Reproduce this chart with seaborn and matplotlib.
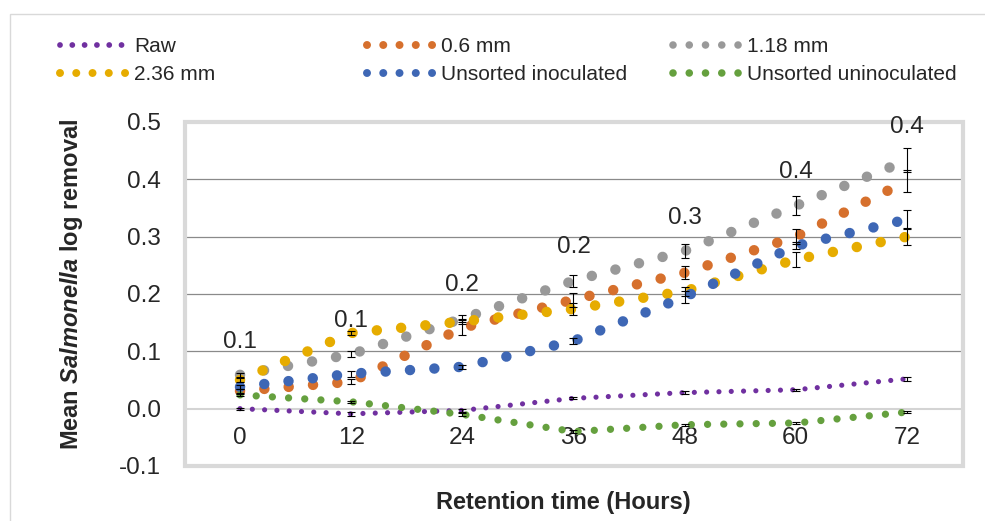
import matplotlib
matplotlib.use("Agg")
import matplotlib.pyplot as plt
import seaborn as sns
from matplotlib.lines import Line2D
from matplotlib.patches import Rectangle

# === Data ===
TIME = [0, 12, 24, 36, 48, 60, 72]

RAW = [0.000, -0.009, -0.003, 0.018, 0.028, 0.033, 0.052]
MM_06 = [0.031, 0.047, 0.141, 0.190, 0.237, 0.300, 0.397]
MM_118 = [0.059, 0.095, 0.157, 0.223, 0.275, 0.354, 0.433]
MM_236 = [0.050, 0.132, 0.152, 0.174, 0.205, 0.260, 0.300]
INOC = [0.038, 0.061, 0.073, 0.118, 0.195, 0.284, 0.330]
UNINOC = [0.024, 0.012, -0.010, -0.040, -0.028, -0.025, -0.006]

RAW_ERR = [0.002, 0.003, 0.003, 0.002, 0.002, 0.002, 0.003]
MM_06_ERR = [0.004, 0.004, 0.013, 0.012, 0.011, 0.013, 0.019]
MM_118_ERR = [0.004, 0.005, 0.006, 0.010, 0.013, 0.017, 0.021]
MM_236_ERR = [0.004, 0.004, 0.005, 0.010, 0.008, 0.013, 0.015]
INOC_ERR = [0.004, 0.005, 0.003, 0.005, 0.010, 0.006, 0.016]
UNINOC_ERR = [0.002, 0.002, 0.002, 0.003, 0.002, 0.002, 0.002]

LABELS = ["Raw", "0.6 mm", "1.18 mm", "2.36 mm", "Unsorted inoculated", "Unsorted uninoculated"]
COLORS = ["#7030A0", "#D6702D", "#999999", "#E6AC00", "#3E67B5", "#65A03E"]
Y_TICKS = [-0.1, 0.0, 0.1, 0.2, 0.3, 0.4, 0.5]
GRID_LEVELS = [0.1, 0.2, 0.3, 0.4]

series = [RAW, MM_06, MM_118, MM_236, INOC, UNINOC]
errors = [RAW_ERR, MM_06_ERR, MM_118_ERR, MM_236_ERR, INOC_ERR, UNINOC_ERR]

# dot size (px) and spacing (px) for each series line
PX = 0.72
dot_px = [5.2, 10.5, 10.5, 10.5, 10.5, 7.3]
gap_px = [12.3, 24.4, 24.4, 24.4, 24.4, 16.2]
leg_dot_px = [5.8, 8.0, 7.6, 8.0, 8.0, 7.6]
leg_gap_px = [12.3, 16.25, 16.25, 16.25, 16.25, 16.25]

# === Style ===
sns.set_style("white")
plt.rcParams["font.family"] = ["Liberation Sans", "DejaVu Sans"]
plt.rcParams["mathtext.fontset"] = "custom"
plt.rcParams["mathtext.bfit"] = "Liberation Sans:italic:bold"
plt.rcParams["axes.unicode_minus"] = False

W, H = 985, 521
fig = plt.figure(figsize=(W / 100, H / 100), dpi=100)
fig.patch.set_facecolor("white")

# outer chart border
fig.patches.append(Rectangle((10 / W, -0.1), 1.2, 1.1 - 14 / H, transform=fig.transFigure,
                             fill=False, ec="#d9d9d9", lw=1.0, zorder=0))

ax_l, ax_r, ax_t, ax_b = 185, 963, 122, 466
ax = fig.add_axes([ax_l / W, 1 - ax_b / H, (ax_r - ax_l) / W, (ax_b - ax_t) / H])
ax.set_facecolor("none")

for lvl in GRID_LEVELS:
    ax.axhline(lvl, color="#8a8a8a", lw=0.9, zorder=1)

# series
for vals, err, col, dpx, gpx in zip(series, errors, COLORS, dot_px, gap_px):
    sns.lineplot(x=TIME, y=vals, ax=ax, color=col, lw=dpx * PX,
                 linestyle=(0, (0.001, gpx / dpx)), dash_capstyle="round",
                 legend=False, zorder=3)
    ax.errorbar(TIME, vals, yerr=err, fmt="none", ecolor="black", elinewidth=0.8,
                capsize=3, capthick=0.8, zorder=4)

# data labels (1.18 mm series)
for t, v in zip(TIME, MM_118):
    ax.annotate(f"{v:.1f}", (t, v), xytext=(0, 24), textcoords="offset points",
                ha="center", va="center", fontsize=17.5, zorder=6)

ax.set_xlim(-5.94, 78.05)
ax.set_ylim(-0.1, 0.5)
ax.set_xticks(TIME)
ax.set_xticklabels([str(t) for t in TIME])
ax.set_yticks(Y_TICKS)
ax.set_yticklabels([f"{y:.1f}" for y in Y_TICKS])
ax.tick_params(axis="x", length=0, pad=13.5, labelsize=17.5)
ax.tick_params(axis="y", length=0, pad=17.5, labelsize=17.5)

for side in ["top", "left", "right"]:
    ax.spines[side].set_visible(False)
ax.spines["bottom"].set_position(("data", 0))
ax.spines["bottom"].set_color("#d4d4d4")
ax.spines["bottom"].set_linewidth(1.5)

# plot area border
ax.add_patch(Rectangle((0, 0), 1, 1, transform=ax.transAxes, fill=False,
                       ec="#d9d9d9", lw=3.0, clip_on=False, zorder=5))

# axis titles
fig.text(72 / W, 1 - 284 / H, r"Mean $\mathbfit{Salmonella}$ log removal", rotation=90,
         ha="center", va="center", fontsize=17, fontweight="bold")
fig.text(563 / W, 1 - 503 / H, "Retention time (Hours)", ha="center", va="center",
         fontsize=17, fontweight="bold")

# legend: three columns of two entries each
handles = [Line2D([], [], color=c, lw=d * PX, linestyle=(0, (0.001, g / d)),
                  dash_capstyle="round")
           for c, d, g in zip(COLORS, leg_dot_px, leg_gap_px)]
col_x = [60, 367, 673]
col_idx = [[0, 3], [1, 4], [2, 5]]
for x0, idx in zip(col_x, col_idx):
    leg = fig.legend([handles[i] for i in idx], [LABELS[i] for i in idx],
                     loc="center left", bbox_to_anchor=(x0 / W, 1 - 60.5 / H),
                     frameon=False, fontsize=15, borderpad=0, borderaxespad=0,
                     handlelength=3.17, handletextpad=0.4, labelspacing=0.43)

fig.savefig("out.png", dpi=100)
